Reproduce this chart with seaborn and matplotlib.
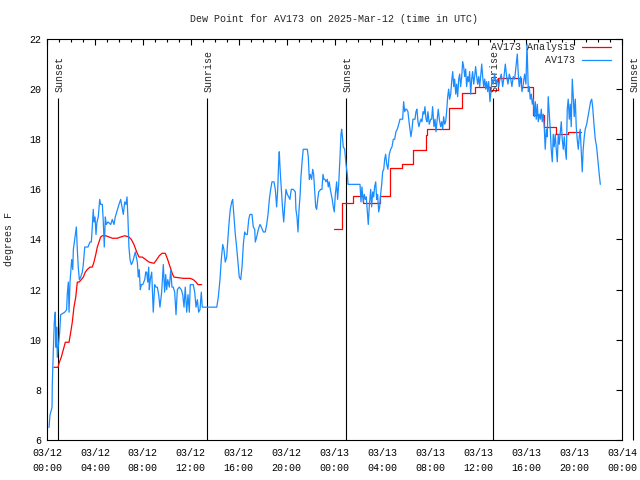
import matplotlib
matplotlib.use("Agg")
import matplotlib.pyplot as plt
import seaborn as sns

# hours after 03/12 00:00 UTC, dew point in degrees F
obs_hours = [
    0.17, 0.25, 0.42, 0.44, 0.53, 0.61, 0.69, 0.75, 0.81, 0.86, 0.94, 1.06, 1.14, 1.48, 1.64, 1.69, 1.78, 1.84, 1.92, 1.98,
    2.06, 2.15, 2.20, 2.31, 2.40, 2.45, 2.53, 2.61, 2.70, 2.81, 2.95, 3.03, 3.15, 3.42, 3.59, 3.70, 3.78, 3.86, 3.92, 4.01,
    4.09, 4.17, 4.28, 4.40, 4.48, 4.62, 4.70, 4.78, 4.87, 4.95, 5.09, 5.32, 5.45, 5.59, 5.70, 5.82, 6.01, 6.15, 6.26, 6.37,
    6.49, 6.59, 6.68, 6.76, 6.84, 6.93, 7.04, 7.15, 7.26, 7.37, 7.54, 7.62, 7.70, 7.79, 7.87, 7.99, 8.16, 8.24, 8.32, 8.41,
    8.49, 8.54, 8.62, 8.74, 8.87, 8.99, 9.10, 9.21, 9.32, 9.43, 9.57, 9.71, 9.82, 9.91, 9.99, 10.08, 10.21, 10.33, 10.43, 10.54,
    10.66, 10.77, 10.88, 11.04, 11.21, 11.33, 11.44, 11.54, 11.66, 11.77, 11.88, 11.96, 12.21, 12.33, 12.44, 12.55, 12.66, 12.77, 12.83, 12.88,
    12.96, 13.33, 13.61, 13.88, 14.17, 14.30, 14.44, 14.55, 14.67, 14.77, 14.88, 15.00, 15.11, 15.22, 15.30, 15.42, 15.50, 15.61, 15.72, 15.83,
    15.94, 16.05, 16.17, 16.28, 16.39, 16.50, 16.61, 16.72, 16.84, 16.94, 17.11, 17.22, 17.34, 17.39, 17.50, 17.64, 17.78, 17.89, 18.06, 18.22,
    18.34, 18.45, 18.56, 18.67, 18.78, 18.95, 19.06, 19.17, 19.26, 19.34, 19.39, 19.47, 19.59, 19.67, 19.76, 19.84, 19.95, 20.06, 20.18, 20.28,
    20.39, 20.56, 20.73, 20.78, 20.87, 20.95, 21.04, 21.12, 21.20, 21.31, 21.39, 21.73, 21.81, 21.90, 21.98, 22.09, 22.18, 22.26, 22.35, 22.43,
    22.51, 22.60, 22.68, 22.85, 22.95, 23.04, 23.12, 23.21, 23.29, 23.40, 23.48, 23.56, 23.65, 23.73, 23.81, 23.90, 23.98, 24.07, 24.18, 24.26,
    24.35, 24.46, 24.54, 24.60, 24.68, 24.73, 24.85, 24.96, 25.07, 25.13, 25.43, 25.71, 25.98, 26.13, 26.21, 26.29, 26.40, 26.49, 26.57, 26.65,
    26.74, 26.82, 26.90, 27.02, 27.10, 27.19, 27.27, 27.35, 27.44, 27.52, 27.60, 27.69, 27.77, 27.85, 27.94, 28.02, 28.11, 28.19, 28.27, 28.36,
    28.46, 28.57, 28.69, 28.80, 28.91, 29.02, 29.13, 29.24, 29.36, 29.47, 29.57, 29.69, 29.77, 29.86, 29.94, 30.02, 30.13, 30.22, 30.30, 30.38,
    30.47, 30.55, 30.63, 30.72, 30.80, 30.88, 30.97, 31.05, 31.14, 31.22, 31.30, 31.39, 31.47, 31.55, 31.64, 31.72, 31.80, 31.91, 32.03, 32.11,
    32.19, 32.30, 32.39, 32.47, 32.58, 32.66, 32.75, 32.86, 32.95, 33.03, 33.11, 33.20, 33.28, 33.36, 33.45, 33.53, 33.61, 33.70, 33.78, 33.87,
    33.95, 34.03, 34.12, 34.20, 34.28, 34.37, 34.45, 34.53, 34.62, 34.70, 34.78, 34.87, 34.95, 35.03, 35.12, 35.20, 35.28, 35.37, 35.45, 35.53,
    35.62, 35.70, 35.78, 35.87, 35.95, 36.04, 36.12, 36.20, 36.29, 36.37, 36.45, 36.54, 36.62, 36.70, 36.79, 36.87, 36.98, 37.06, 37.15, 37.25,
    37.37, 37.48, 37.59, 37.70, 37.81, 37.92, 38.04, 38.15, 38.26, 38.37, 38.48, 38.59, 38.71, 38.81, 38.92, 39.04, 39.15, 39.26, 39.34, 39.42,
    39.54, 39.65, 39.76, 39.87, 39.98, 40.07, 40.18, 40.26, 40.34, 40.43, 40.51, 40.59, 40.68, 40.76, 40.84, 40.93, 41.01, 41.09, 41.18, 41.26,
    41.34, 41.43, 41.51, 41.59, 41.68, 41.76, 41.84, 41.93, 42.01, 42.09, 42.18, 42.26, 42.34, 42.43, 42.51, 42.60, 42.68, 42.76, 42.85, 42.93,
    43.01, 43.10, 43.18, 43.26, 43.35, 43.43, 43.51, 43.60, 43.68, 43.76, 43.85, 43.93, 44.01, 44.10, 44.18, 44.26, 44.35, 44.43, 44.51, 44.60,
    44.68, 44.76, 44.85, 44.93, 45.05, 45.16, 45.27, 45.38, 45.47, 45.55, 45.66, 45.77, 45.88, 46.00, 46.10, 46.19,
]
obs_dewpt = [
    6.5, 7.0, 7.3, 8.2, 9.6, 10.7, 11.1, 9.7, 10.5, 9.3, 9.7, 10.3, 11.0, 11.1, 11.2, 11.8, 12.3, 11.1, 12.3, 12.7,
    13.2, 12.8, 13.6, 14.0, 14.3, 14.5, 13.6, 12.9, 12.4, 12.5, 12.7, 13.0, 13.7, 13.7, 13.9, 13.9, 14.5, 15.2, 14.7, 14.9,
    14.2, 14.7, 14.9, 15.6, 15.4, 15.4, 14.7, 13.7, 14.9, 14.6, 14.7, 14.6, 14.8, 14.6, 14.9, 15.1, 15.4, 15.6, 15.3, 15.0,
    15.5, 15.4, 15.7, 14.8, 13.7, 13.2, 13.0, 13.1, 13.3, 13.5, 13.1, 12.5, 12.8, 12.0, 12.2, 12.2, 12.4, 12.7, 12.7, 12.3,
    12.9, 12.0, 12.4, 12.7, 11.1, 12.2, 12.1, 12.1, 11.8, 11.3, 11.9, 13.0, 11.9, 12.6, 12.0, 12.4, 12.1, 12.8, 12.1, 12.1,
    11.9, 11.0, 12.0, 12.1, 12.0, 11.8, 11.3, 12.1, 11.1, 11.8, 11.1, 12.2, 12.2, 11.9, 11.3, 11.6, 11.1, 11.2, 11.6, 11.9,
    11.3, 11.3, 11.3, 11.3, 11.3, 11.7, 12.4, 13.2, 13.8, 13.6, 13.1, 13.3, 14.1, 14.8, 15.2, 15.5, 15.6, 14.9, 14.2, 13.7,
    13.1, 12.5, 12.4, 12.9, 13.8, 14.3, 14.2, 14.2, 14.8, 15.0, 15.0, 14.5, 14.4, 13.9, 14.1, 14.4, 14.6, 14.5, 14.3, 14.3,
    14.6, 15.0, 15.6, 16.0, 16.3, 16.3, 16.0, 15.3, 16.0, 17.1, 17.5, 16.7, 15.8, 15.2, 14.7, 15.3, 16.0, 15.8, 15.7, 15.6,
    16.0, 16.0, 15.9, 15.2, 14.9, 14.3, 15.2, 15.7, 16.5, 17.2, 17.6, 17.6, 17.3, 16.4, 16.6, 16.4, 16.8, 16.6, 15.9, 15.3,
    15.2, 15.6, 15.9, 16.0, 16.0, 16.6, 16.4, 16.4, 16.3, 16.4, 16.1, 16.3, 16.0, 15.8, 15.6, 15.3, 15.1, 15.8, 16.3, 15.6,
    16.2, 17.3, 18.2, 18.4, 18.0, 17.7, 17.6, 17.0, 16.6, 16.2, 16.2, 16.2, 16.2, 16.2, 15.5, 16.1, 15.5, 15.8, 15.6, 15.7,
    15.1, 14.6, 15.3, 16.0, 15.3, 15.9, 15.7, 16.1, 16.3, 15.6, 15.8, 15.1, 15.3, 15.8, 16.2, 16.7, 16.8, 17.2, 17.4, 17.0,
    16.8, 17.4, 17.6, 17.7, 18.0, 18.0, 18.3, 18.4, 18.6, 18.8, 18.8, 18.8, 19.5, 19.1, 19.2, 19.2, 19.1, 18.7, 18.4, 18.1,
    18.4, 18.8, 18.8, 18.8, 19.1, 19.2, 18.7, 18.5, 18.7, 18.8, 18.7, 19.1, 19.0, 19.3, 18.8, 18.7, 19.1, 18.6, 18.8, 18.8,
    19.3, 18.5, 18.8, 18.3, 18.8, 19.2, 18.8, 18.5, 18.7, 18.4, 18.9, 18.6, 18.7, 19.1, 19.7, 20.0, 19.6, 19.8, 20.3, 20.7,
    20.1, 20.4, 19.8, 20.2, 19.7, 20.4, 20.6, 20.1, 20.5, 21.1, 20.9, 20.5, 20.8, 20.1, 20.5, 20.3, 20.7, 19.8, 20.4, 20.7,
    20.2, 20.5, 20.9, 20.5, 20.2, 20.5, 20.1, 20.5, 21.0, 20.5, 20.1, 20.4, 20.0, 20.3, 19.9, 20.3, 19.5, 19.9, 20.4, 20.2,
    20.6, 20.2, 20.4, 20.1, 20.4, 20.6, 20.1, 20.5, 21.0, 20.5, 20.2, 20.6, 20.4, 20.1, 20.5, 20.4, 20.9, 21.4, 20.6, 20.1,
    20.5, 19.9, 20.2, 20.6, 20.2, 21.8, 19.9, 20.1, 19.6, 19.8, 19.4, 19.6, 18.9, 19.5, 18.8, 19.4, 18.7, 19.0, 18.8, 19.2,
    18.7, 19.0, 18.5, 17.6, 18.4, 18.1, 19.7, 19.0, 18.4, 17.6, 17.1, 18.2, 17.7, 18.2, 17.6, 17.1, 18.2, 17.8, 18.3, 18.7,
    18.0, 17.6, 18.1, 17.6, 17.2, 19.2, 19.6, 18.8, 19.4, 18.5, 20.4, 19.7, 18.9, 19.6, 18.5, 18.0, 17.6, 18.1, 18.4, 17.5,
    16.7, 17.6, 18.1, 18.4, 18.6, 18.9, 19.2, 19.5, 19.6, 19.3, 18.6, 18.0, 17.7, 17.1, 16.6, 16.2,
]

# analysis, first run (smooth)
ana1_hours = [0.58, 0.92, 1.03, 1.19, 1.36, 1.53, 1.84, 1.98, 2.11, 2.25, 2.40, 2.53, 2.67, 2.86, 3.03, 3.20,
              3.36, 3.59, 3.78, 3.92, 4.07, 4.20, 4.34, 4.48, 4.62, 4.90, 5.18, 5.45, 5.87, 6.15, 6.49, 6.84,
              7.04, 7.26, 7.49, 7.68, 7.95, 8.24, 8.51, 8.93, 9.16, 9.37, 9.60, 9.87, 10.04, 10.21, 10.35, 10.49,
              10.60, 11.38, 11.94, 12.21, 12.44, 12.60, 12.91]
ana1_dewpt = [8.9, 8.9, 9.1, 9.3, 9.6, 9.9, 9.9, 10.3, 10.7, 11.3, 11.7, 12.3, 12.3, 12.4, 12.5, 12.7,
              12.8, 12.9, 12.9, 13.1, 13.4, 13.7, 13.9, 14.1, 14.15, 14.15, 14.1, 14.05, 14.05, 14.1, 14.15, 14.1,
              14.0, 13.8, 13.5, 13.3, 13.3, 13.2, 13.1, 13.05, 13.2, 13.35, 13.45, 13.45, 13.25, 13.0, 12.8, 12.6,
              12.5, 12.45, 12.45, 12.4, 12.3, 12.2, 12.2]

# analysis, second run (hourly steps)
ana2_hours = [23.96, 24.60, 25.57, 26.40, 27.80, 28.63, 29.61, 30.55, 31.64, 31.74, 33.58,
              34.62, 35.73, 36.98, 37.67, 39.57, 40.54, 41.51, 42.51, 43.51, 44.57]
ana2_dewpt = [14.4, 15.45, 15.75, 15.44, 15.72, 16.84, 17.0, 17.57, 18.17, 18.4, 19.23,
              19.86, 20.07, 19.96, 20.46, 20.07, 18.97, 18.5, 18.2, 18.3, 18.3]

sun_hours = [0.92, 13.36, 24.92, 37.23, 48.9]
sun_labels = ["Sunset", "Sunrise", "Sunset", "Sunrise", "Sunset"]

tick_hours = [0, 4, 8, 12, 16, 20, 24, 28, 32, 36, 40, 44, 48]
tick_labels = ["03/12\n00:00", "03/12\n04:00", "03/12\n08:00", "03/12\n12:00", "03/12\n16:00",
               "03/12\n20:00", "03/13\n00:00", "03/13\n04:00", "03/13\n08:00", "03/13\n12:00",
               "03/13\n16:00", "03/13\n20:00", "03/14\n00:00"]

FONT = ["Liberation Mono", "DejaVu Sans Mono"]
FS = 7.2

sns.set_style("white")
plt.rcParams["font.family"] = FONT
plt.rcParams["font.size"] = FS

fig = plt.figure(figsize=(6.4, 4.8), dpi=100)
ax = fig.add_axes([47 / 640, 1 - 440 / 480, 575 / 640, 401 / 480])

# analysis first, observations drawn on top of it
sns.lineplot(x=ana1_hours, y=ana1_dewpt, ax=ax, color="#ff0000", linewidth=0.9,
             estimator=None, sort=False, label="AV173 Analysis", zorder=3)
sns.lineplot(x=ana2_hours, y=ana2_dewpt, ax=ax, color="#ff0000", linewidth=0.9,
             estimator=None, sort=False, drawstyle="steps-post", zorder=3)
sns.lineplot(x=obs_hours, y=obs_dewpt, ax=ax, color="#1a8cff", linewidth=0.9,
             estimator=None, sort=False, label="AV173", zorder=4)

ax.vlines(sun_hours, 6, 19.63, colors="black", linewidth=0.8, clip_on=False, zorder=2)
for h, lab in zip(sun_hours, sun_labels):
    ax.text(h + 0.15, 19.9, lab, rotation=90, ha="center", va="bottom",
            fontsize=FS, family=FONT, clip_on=False)

ax.set_xlim(0, 48)
ax.set_ylim(6, 22)
ax.set_xticks(tick_hours)
ax.set_xticklabels(tick_labels, linespacing=1.55)
ax.set_xticks(range(0, 49), minor=True)
ax.set_yticks(range(6, 23, 2))

ax.tick_params(which="both", direction="in", top=True, right=True, width=0.8, colors="black",
               labelsize=FS)
ax.tick_params(which="major", length=4)
ax.tick_params(axis="x", which="major", pad=6)
ax.tick_params(axis="y", which="major", pad=4)
ax.tick_params(which="minor", length=2.2)
for sp in ax.spines.values():
    sp.set_visible(True)
    sp.set_color("black")
    sp.set_linewidth(0.8)

ax.set_xlabel("")
ax.set_ylabel("degrees F", fontsize=FS)
ax.yaxis.set_label_coords(-0.057, 0.5)
ax.set_title("Dew Point for AV173 on 2025-Mar-12 (time in UTC)", fontsize=FS, pad=12)

handles, labels = ax.get_legend_handles_labels()
order = [labels.index("AV173 Analysis"), labels.index("AV173")]
ax.legend([handles[i] for i in order], [labels[i] for i in order],
          loc="upper right", bbox_to_anchor=(611 / 640, 1 - 42 / 480),
          bbox_transform=fig.transFigure, frameon=False, markerfirst=False,
          handlelength=2.9, handletextpad=0.7, labelspacing=0.3,
          borderpad=0, borderaxespad=0, fontsize=FS)

fig.savefig("out.png", dpi=100)
